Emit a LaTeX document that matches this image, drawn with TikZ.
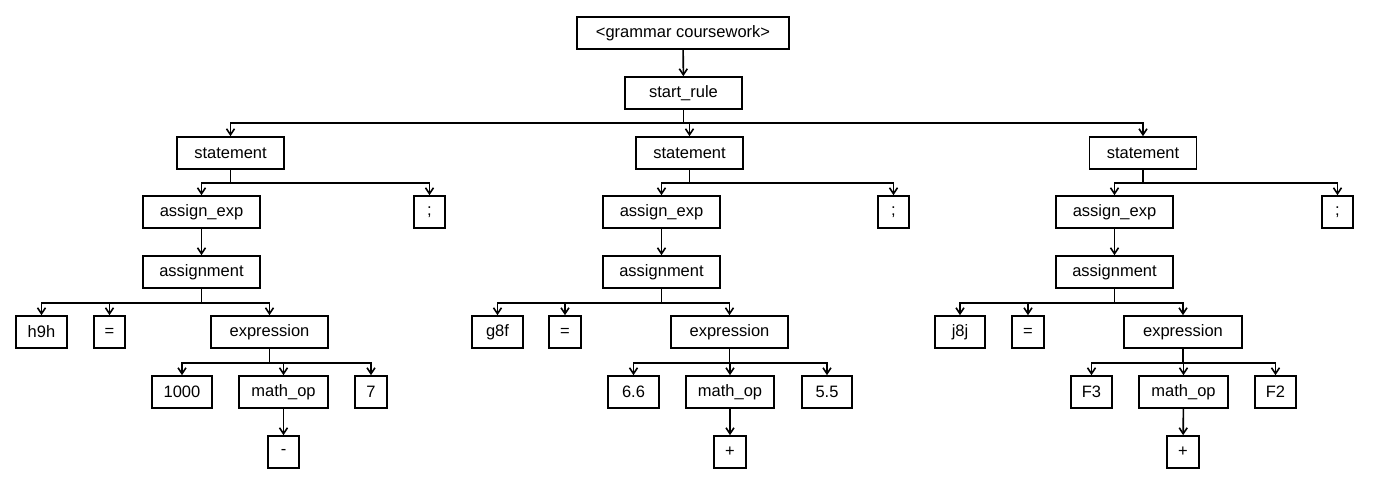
\documentclass[tikz,border=0pt]{standalone}
\usepackage{fontspec}
\setmainfont{Liberation Sans}
\usetikzlibrary{arrows.meta}
\begin{document}
\begin{tikzpicture}[x=1pt,y=-1pt,line width=1.6pt,
		>={Straight Barb[length=6pt,width=8pt]},
		box/.style={draw,rectangle,inner sep=0pt,minimum height=32pt,font=\fontsize{16.5}{19}\selectfont}]
		\useasboundingbox (0,0) rectangle (1373,486);
		% top
		\node[box,minimum width=212pt] (root) at (683,33) {<grammar coursework>};
		\node[box,minimum width=117pt] (rule) at (683.5,93) {start\_rule};
		% first statement
		\node[box,minimum width=107pt] (stmtA) at (230.5,153) {statement};
		\node[box,minimum width=117pt] (assignA) at (201.5,212) {assign\_exp};
		\node[box,minimum width=31pt] (semiA) at (429.5,212) {;};
		\node[box,minimum width=117pt] (asgA) at (201.5,272) {assignment};
		\node[box,minimum width=51pt] (idA) at (41.5,332) {h9h};
		\node[box,minimum width=31pt] (eqA) at (109.5,332) {=};
		\node[box,minimum width=117pt] (exprA) at (269.5,332) {expression};
		\node[box,minimum width=60pt] (lhsA) at (182,392) {1000};
		\node[box,minimum width=89pt] (opA) at (283.5,392) {math\_op};
		\node[box,minimum width=32pt] (rhsA) at (371,392) {7};
		\node[box,minimum width=31pt] (symA) at (283.5,452) {-};
		% second statement
		\node[box,minimum width=107pt] (stmtB) at (689.5,153) {statement};
		\node[box,minimum width=117pt] (assignB) at (661.5,212) {assign\_exp};
		\node[box,minimum width=31pt] (semiB) at (893.5,212) {;};
		\node[box,minimum width=117pt] (asgB) at (661.5,272) {assignment};
		\node[box,minimum width=51pt] (idB) at (497.5,332) {g8f};
		\node[box,minimum width=32pt] (eqB) at (565,332) {=};
		\node[box,minimum width=117pt] (exprB) at (729.5,332) {expression};
		\node[box,minimum width=51pt] (lhsB) at (633.5,392) {6.6};
		\node[box,minimum width=88pt] (opB) at (730,392) {math\_op};
		\node[box,minimum width=50pt] (rhsB) at (827,392) {5.5};
		\node[box,minimum width=32pt] (symB) at (730,452) {+};
		% third statement
		\node[box,minimum width=107pt] (stmtC) at (1143,153) {statement};
		\node[box,minimum width=117pt] (assignC) at (1114.5,212) {assign\_exp};
		\node[box,minimum width=31pt] (semiC) at (1337.5,212) {;};
		\node[box,minimum width=117pt] (asgC) at (1114.5,272) {assignment};
		\node[box,minimum width=50pt] (idC) at (960,332) {j8j};
		\node[box,minimum width=32pt] (eqC) at (1028,332) {=};
		\node[box,minimum width=118pt] (exprC) at (1183,332) {expression};
		\node[box,minimum width=41pt] (lhsC) at (1091.5,392) {F3};
		\node[box,minimum width=89pt] (opC) at (1183.5,392) {math\_op};
		\node[box,minimum width=41pt] (rhsC) at (1275.5,392) {F2};
		\node[box,minimum width=32pt] (symC) at (1183,452) {+};
		% connectors
		\draw[->] (root)--(rule);
		\foreach \p/\c in {rule/stmtA,rule/stmtB,rule/stmtC}
			\draw[->] (\p.south)--++(0,13)-|(\c.north);
		\foreach \s in {A,B,C}{
			\draw[->] (stmt\s.south)--++(0,13)-|(assign\s.north);
			\draw[->] (stmt\s.south)--++(0,13)-|(semi\s.north);
			\draw[->] (assign\s)--(asg\s);
			\draw[->] (asg\s.south)--++(0,14)-|(id\s.north);
			\draw[->] (asg\s.south)--++(0,14)-|(eq\s.north);
			\draw[->] (asg\s.south)--++(0,14)-|(expr\s.north);
			\draw[->] (expr\s.south)--++(0,14)-|(lhs\s.north);
			\draw[->] (expr\s.south)--++(0,14)-|(op\s.north);
			\draw[->] (expr\s.south)--++(0,14)-|(rhs\s.north);
			\draw[->] (op\s)--(sym\s);
		}
	\end{tikzpicture}
\end{document}
